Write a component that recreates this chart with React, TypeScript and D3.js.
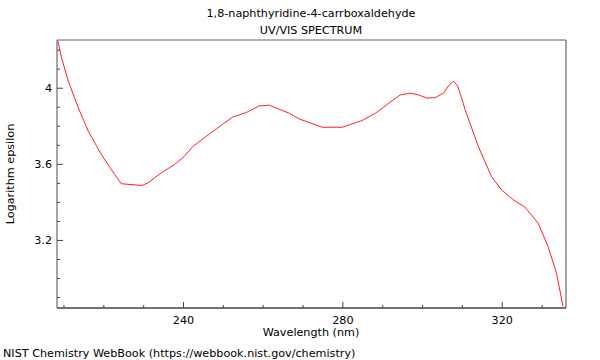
import React from "react";
import * as d3 from "d3";

const wavelengths = [208.4, 209.4, 211.1, 213.6, 216.1, 219.4, 222.75, 224.4, 229.6, 231.1, 234.4, 237.75, 240.25, 242.3, 247.3, 252.3, 255.7, 259, 261.5, 266.5, 269, 274.8, 279.8, 284.8, 288.2, 291.5, 294.4, 296.9, 299, 301.1, 303.2, 305.25, 306.7, 307.75, 308.75, 309.7, 310.7, 314, 317.3, 319.8, 322.75, 325.7, 329, 331.5, 333.6, 335.25];
const logEps = [4.255, 4.159, 4.037, 3.897, 3.774, 3.651, 3.546, 3.498, 3.489, 3.503, 3.555, 3.599, 3.643, 3.693, 3.772, 3.848, 3.872, 3.907, 3.911, 3.869, 3.839, 3.795, 3.795, 3.83, 3.869, 3.921, 3.965, 3.974, 3.965, 3.948, 3.951, 3.974, 4.017, 4.037, 4.014, 3.956, 3.886, 3.693, 3.536, 3.466, 3.414, 3.375, 3.291, 3.168, 3.029, 2.854];
const xMajorTicks = [240, 280, 320];
const yMajorTicks = [3.2, 3.6, 4];
const titleLines = ["1,8-naphthyridine-4-carrboxaldehyde", "UV/VIS SPECTRUM"];
const xLabel = "Wavelength (nm)";
const yLabel = "Logarithm epsilon";
const footer = "NIST Chemistry WebBook (https://webbook.nist.gov/chemistry)";

const L = 57, R = 566, T = 40, B = 308;
const font = "DejaVu Sans, sans-serif";
const fs = 11.2;

export default function App() {
  const x = d3.scaleLinear().domain([208.25, 336]).range([L, R]);
  const y = d3.scaleLinear().domain([2.845, 4.2535]).range([B, T]);
  const xMinor = d3.range(210, 336, 10);
  const yMinor = d3.range(29, 43).map((v) => v / 10);
  const pts = wavelengths.map((w, i) => [w, logEps[i]] as [number, number]);
  const line = d3.line<[number, number]>().x((d) => x(d[0])).y((d) => y(d[1]));
  return (
    <svg width={600} height={360} style={{ position: "absolute", left: 0, top: 0 }} fontFamily={font}>
      <rect width={600} height={360} fill="white" />
      <text x={311} y={17} fontSize={fs} textAnchor="middle">{titleLines[0]}</text>
      <text x={311} y={34} fontSize={fs} textAnchor="middle">{titleLines[1]}</text>
      <defs>
        <clipPath id="plot"><rect x={L} y={T} width={R - L} height={B - T} /></clipPath>
      </defs>
      <path d={line(pts) || ""} fill="none" stroke="#ff2020" strokeWidth={1} clipPath="url(#plot)" />
      <line x1={L} y1={T} x2={R} y2={T} stroke="#999" strokeWidth={1.5} />
      <line x1={R} y1={T} x2={R} y2={B} stroke="#444" strokeWidth={1} />
      <line x1={L} y1={T} x2={L} y2={B} stroke="#888" strokeWidth={1.5} />
      <line x1={L} y1={B} x2={R} y2={B} stroke="#444" strokeWidth={1.5} />
      {xMinor.map((t) => (
        <line key={"xm" + t} x1={x(t)} x2={x(t)} y1={B} y2={B - (xMajorTicks.includes(t) ? 6 : 3)} stroke="#444" />
      ))}
      {yMinor.filter((t) => y(t) > T + 1 && y(t) < B - 1).map((t) => (
        <line key={"ym" + t} x1={L} x2={L + (yMajorTicks.some((m) => Math.abs(m - t) < 1e-6) ? 6 : 3)} y1={y(t)} y2={y(t)} stroke="#444" />
      ))}
      {xMajorTicks.map((t) => (
        <text key={"xl" + t} x={x(t)} y={324} fontSize={fs} textAnchor="middle">{t}</text>
      ))}
      {yMajorTicks.map((t) => (
        <text key={"yl" + t} x={L - 5} y={y(t) + 4} fontSize={fs} textAnchor="end">{t}</text>
      ))}
      <text x={311} y={336} fontSize={fs} textAnchor="middle">{xLabel}</text>
      <text transform={`translate(14,174) rotate(-90)`} fontSize={fs} textAnchor="middle">{yLabel}</text>
      <text x={3} y={357} fontSize={fs}>{footer}</text>
    </svg>
  );
}
